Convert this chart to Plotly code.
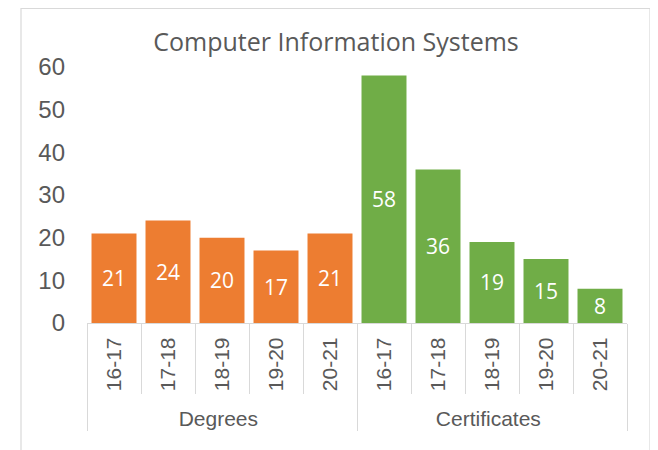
import plotly.graph_objects as go

groups = ["Degrees"] * 5 + ["Certificates"] * 5
years = ["16-17", "17-18", "18-19", "19-20", "20-21"] * 2
values = [21, 24, 20, 17, 21, 58, 36, 19, 15, 8]
colors = ["#ED7D31"] * 5 + ["#70AD47"] * 5

# page has an 8px body margin, so the figure is 8px smaller than the window
W, H = 650, 442
L, R, T, B = 79, 31, 59, 127

fig = go.Figure(go.Bar(
    x=[groups, years], y=values,
    marker=dict(color=colors, line=dict(width=0)),
    text=[str(v) for v in values],
    textposition="inside", insidetextanchor="middle", textangle=0,
    textfont=dict(color="white", size=21, family="Open Sans"),
    cliponaxis=False,
))

pw = W - L - R
ph = H - T - B
fig.add_shape(type="rect", xref="paper", yref="paper",
              x0=(13 - L) / pw, x1=(642 - L) / pw,
              y0=(H - 470 - B) / ph, y1=(H - 0.5 - B) / ph,
              line=dict(color="#D9D9D9", width=1.2), layer="below")

fig.update_layout(
    width=W, height=H,
    margin=dict(l=L, r=R, t=T, b=B),
    paper_bgcolor="white", plot_bgcolor="white",
    bargap=0.167, showlegend=False,
    title=dict(text="Computer Information Systems", x=328 / W, xref="container",
               y=1 - 34.6 / H, yref="container", xanchor="center", yanchor="middle",
               font=dict(family="Open Sans", size=25, color="#595959")),
    font=dict(family="Liberation Sans, Arial", size=21, color="#595959"),
)
fig.update_yaxes(range=[0, 60], dtick=10, showgrid=False, zeroline=False,
                 showline=False, ticks="", ticklabelstandoff=21,
                 tickfont=dict(size=24, color="#595959"))
fig.update_xaxes(type="multicategory", tickangle=-90, showline=True,
                 linecolor="#D9D9D9", linewidth=1.2,
                 ticks="outside", ticklen=70, tickcolor="#D9D9D9", tickwidth=1.2,
                 tickson="boundaries", showdividers=True, ticklabelstandoff=5,
                 dividercolor="#D9D9D9", dividerwidth=1.2,
                 tickfont=dict(size=21, color="#595959"), showgrid=False)

fig.write_html("out.html")
